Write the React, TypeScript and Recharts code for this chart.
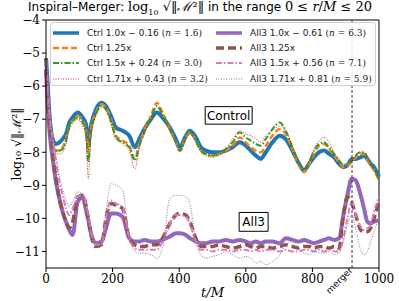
import React from 'react';
import { LineChart, Line, XAxis, YAxis, ReferenceLine, ReferenceArea } from 'recharts';

// time samples (t/M), shared by every series
const times = [
  0, 5, 10, 20, 30, 40, 50, 60, 70, 80,
  95, 110, 120, 127, 135, 150, 167, 180, 195, 210,
  230, 250, 267, 280, 295, 315, 333, 350, 372, 390,
  402, 420, 432, 450, 465, 480, 500, 520, 540, 560,
  582, 600, 615, 630, 645, 660, 680, 702, 720, 740,
  760, 775, 790, 805, 820, 835, 850, 865, 880, 893,
  905, 918, 930, 945, 955, 965, 975, 985, 1000,
];

const ctrl10 = [
  -5.15, -5.9, -6.8, -7.6, -7.75, -7.7, -7.6, -7.45, -7.1, -6.95,
  -6.8, -6.95, -7.15, -7.7, -7.2, -6.7, -6.5, -6.6, -6.9, -7.25,
  -7.35, -7.5, -7.85, -7.6, -7.3, -7.0, -6.8, -6.95, -7.25, -7.6,
  -7.85, -7.5, -7.35, -7.55, -7.85, -7.95, -8.0, -8.0, -7.95, -7.85,
  -7.7, -7.8, -7.95, -8.1, -8.2, -8.0, -7.7, -7.5, -7.6, -7.95,
  -8.35, -8.55, -8.35, -8.15, -8.0, -7.95, -8.05, -8.15, -8.35, -8.45,
  -8.4, -8.2, -8.2, -8.15, -8.1, -8.2, -8.35, -8.45, -8.75,
];
const ctrl125 = [
  -5.2, -6.0, -6.9, -7.7, -7.95, -7.95, -7.85, -7.6, -7.2, -7.05,
  -6.9, -7.05, -7.3, -8.0, -7.3, -6.8, -6.55, -6.65, -7.0, -7.5,
  -7.65, -7.8, -8.2, -7.75, -7.35, -6.9, -6.5, -6.8, -7.3, -7.7,
  -7.95, -7.55, -7.4, -7.65, -7.95, -8.05, -8.1, -8.05, -7.95, -7.8,
  -7.55, -7.7, -7.85, -7.95, -8.0, -7.8, -7.5, -7.3, -7.45, -7.9,
  -8.4, -8.6, -8.35, -8.05, -7.8, -7.75, -7.9, -8.1, -8.3, -8.45,
  -8.4, -8.3, -8.15, -8.05, -8.05, -8.2, -8.4, -8.55, -8.85,
];
const ctrl15 = [
  -5.3, -6.1, -7.0, -7.75, -7.95, -7.95, -7.9, -7.65, -7.2, -7.05,
  -6.95, -7.1, -7.4, -8.3, -7.4, -6.85, -6.6, -6.7, -7.05, -7.55,
  -7.7, -7.85, -8.25, -7.8, -7.4, -6.95, -6.6, -6.85, -7.3, -7.7,
  -7.95, -7.55, -7.4, -7.65, -7.95, -8.05, -8.1, -8.05, -7.9, -7.7,
  -7.4, -7.55, -7.65, -7.75, -7.8, -7.6, -7.3, -7.1, -7.35, -7.85,
  -8.35, -8.55, -8.3, -7.95, -7.75, -7.7, -7.85, -8.05, -8.25, -8.4,
  -8.35, -8.25, -8.1, -8.0, -8.0, -8.15, -8.35, -8.5, -8.8,
];
const ctrl171 = [
  -5.4, -6.2, -7.1, -7.85, -8.05, -8.05, -8.0, -7.75, -7.3, -7.15,
  -7.0, -7.2, -7.5, -8.8, -7.5, -6.9, -6.65, -6.75, -7.15, -7.6,
  -7.75, -7.95, -8.5, -7.9, -7.45, -7.0, -6.65, -6.9, -7.35, -7.75,
  -8.0, -7.6, -7.45, -7.7, -8.0, -8.1, -8.15, -8.1, -7.9, -7.6,
  -7.35, -7.45, -7.5, -7.6, -7.7, -7.5, -7.35, -7.2, -7.35, -7.8,
  -8.3, -8.5, -8.25, -7.9, -7.65, -7.55, -7.7, -8.0, -8.2, -8.35,
  -8.35, -8.25, -8.1, -8.0, -8.0, -8.15, -8.35, -8.5, -8.85,
];
const all10 = [
  -5.5, -6.5, -7.3, -8.2, -8.9, -9.4, -9.8, -10.1, -10.35, -10.5,
  -9.5, -9.35, -9.75, -10.05, -10.45, -10.75, -10.7, -10.3, -9.85, -9.85,
  -9.95, -10.6, -10.7, -10.7, -10.65, -10.7, -10.7, -10.65, -10.55, -10.45,
  -10.45, -10.5, -10.6, -10.7, -10.75, -10.75, -10.7, -10.7, -10.65, -10.7,
  -10.65, -10.7, -10.75, -10.7, -10.75, -10.7, -10.7, -10.75, -10.6, -10.65,
  -10.7, -10.65, -10.7, -10.75, -10.7, -10.65, -10.6, -10.65, -10.6, -9.9,
  -9.3, -8.8, -8.85, -9.3, -9.7, -10.1, -10.15, -10.1, -10.05,
];
const all125 = [
  -5.5, -6.4, -7.1, -8.0, -8.8, -9.4, -9.8, -10.1, -10.3, -10.1,
  -9.35, -9.3, -9.6, -10.0, -10.5, -10.85, -10.8, -10.0, -9.55, -9.6,
  -9.7, -10.6, -10.8, -10.85, -10.85, -10.8, -10.8, -10.6, -10.15, -9.9,
  -9.85, -9.9, -10.1, -10.6, -10.85, -10.85, -10.85, -10.8, -10.85, -10.9,
  -10.85, -10.8, -10.85, -10.9, -10.85, -10.85, -10.9, -10.85, -10.8, -10.85,
  -10.9, -10.85, -10.85, -10.9, -10.85, -10.85, -10.9, -10.85, -10.9, -9.9,
  -9.35, -9.5, -9.9, -10.35, -10.4, -10.4, -10.3, -10.0, -9.5,
];
const all15 = [
  -5.3, -6.1, -6.8, -7.6, -8.3, -8.9, -9.3, -9.7, -9.9, -9.7,
  -9.35, -9.3, -9.55, -9.9, -10.4, -10.8, -10.8, -10.0, -9.45, -9.55,
  -9.65, -10.6, -10.9, -10.95, -10.95, -10.95, -10.95, -10.7, -10.15, -9.9,
  -9.9, -9.95, -10.15, -10.7, -10.95, -10.95, -11.0, -10.95, -10.95, -11.0,
  -10.95, -10.95, -11.0, -10.95, -11.0, -10.95, -10.95, -11.0, -10.95, -11.0,
  -11.0, -10.95, -10.95, -11.0, -10.95, -11.0, -10.95, -11.0, -11.0, -10.6,
  -10.0, -9.5, -9.9, -10.25, -10.35, -10.3, -10.2, -9.8, -9.35,
];
const all171 = [
  -5.2, -5.9, -6.5, -7.4, -8.1, -8.7, -9.1, -9.45, -9.65, -9.5,
  -9.2, -9.25, -9.5, -9.85, -10.3, -10.8, -10.85, -9.8, -8.95, -9.0,
  -9.15, -10.5, -11.0, -11.05, -11.05, -11.1, -11.2, -10.9, -9.4, -9.3,
  -9.3, -9.35, -9.55, -10.7, -11.1, -11.2, -11.15, -11.1, -11.0, -11.1,
  -11.2, -11.15, -11.2, -11.35, -11.3, -11.4, -11.3, -11.1, -10.8, -10.7,
  -10.9, -11.05, -11.1, -11.0, -11.05, -11.05, -11.0, -11.1, -11.05, -10.7,
  -10.2, -9.9, -10.3, -10.95, -11.1, -11.0, -10.7, -10.4, -10.0,
];

const xTicks = [0, 200, 400, 600, 800, 1000];
const yTicks = [-11, -10, -9, -8, -7, -6, -5, -4];
const mergerT = 919;

const rows = times.map((t, i) => ({
  t,
  c10: ctrl10[i], c125: ctrl125[i], c15: ctrl15[i], c171: ctrl171[i],
  a10: all10[i], a125: all125[i], a15: all15[i], a171: all171[i],
}));

const DASHDOT = '6 2 1.5 2';
const series = [
  { key: 'c10', label: 'Ctrl 1.0x − 0.16', n: '1.6', color: '#1f77b4', width: 4, dash: undefined },
  { key: 'c125', label: 'Ctrl 1.25x', n: null, color: '#ff7f0e', width: 2.5, dash: '6 3' },
  { key: 'c15', label: 'Ctrl 1.5x + 0.24', n: '3.0', color: '#2ca02c', width: 2, dash: DASHDOT },
  { key: 'c171', label: 'Ctrl 1.71x + 0.43', n: '3.2', color: '#d62728', width: 1, dash: '1 1.5' },
  { key: 'a10', label: 'All3 1.0x − 0.61', n: '6.3', color: '#9467bd', width: 4, dash: undefined },
  { key: 'a125', label: 'All3 1.25x', n: null, color: '#8c564b', width: 3.5, dash: '8 4' },
  { key: 'a15', label: 'All3 1.5x + 0.56', n: '7.1', color: '#e377c2', width: 2, dash: DASHDOT },
  { key: 'a171', label: 'All3 1.71x + 0.81', n: '5.9', color: '#7f7f7f', width: 1, dash: '1 1.5' },
];

const SANS = 'DejaVu Sans, sans-serif';
const SERIF = 'DejaVu Serif, Liberation Serif, serif';

const fmt = (v: number) => String(v).replace('-', '−');

function MergerLabel(props: any) {
  const vb = props.viewBox || {};
  const x = vb.x + 1;
  const y = vb.y + vb.height + 3;
  return (
    <text x={x} y={y} transform={`rotate(-45 ${x} ${y})`} textAnchor="end" fontSize={9} fontFamily={SANS} fill="#000">
      merger
    </text>
  );
}

function YLabel(props: any) {
  const vb = props.viewBox || {};
  const x = 16;
  const y = vb.y + vb.height / 2;
  return (
    <text x={x} y={y} transform={`rotate(-90 ${x} ${y})`} textAnchor="middle" fontSize={12.5} fontFamily={SERIF} fill="#000" dominantBaseline="central">
      log₁₀ √‖ℳ²‖
    </text>
  );
}

function Swatch({ s }: { s: typeof series[number] }) {
  return (
    <svg width={26} height={10} style={{ display: 'block', flex: 'none' }}>
      <line x1={0} y1={5} x2={26} y2={5} stroke={s.color} strokeWidth={Math.min(s.width, 3.5)} strokeDasharray={s.dash} />
    </svg>
  );
}

function LegendBox() {
  const cols = [series.slice(0, 4), series.slice(4)];
  return (
    <div style={{
      position: 'absolute', left: 50, top: 22, width: 326, height: 64, boxSizing: 'border-box',
      border: '1px solid #d0d0d0', borderRadius: 3, background: 'rgba(255,255,255,0.85)',
      display: 'flex', paddingTop: 2, fontFamily: SANS, fontSize: 9, color: '#222',
    }}>
      {cols.map((col, ci) => (
        <div key={ci} style={{ width: ci === 0 ? 162 : 160, paddingLeft: 2 }}>
          {col.map(s => (
            <div key={s.key} style={{ height: 15.3, display: 'flex', alignItems: 'center', whiteSpace: 'nowrap' }}>
              <Swatch s={s} />
              <span style={{ marginLeft: 8 }}>
                {s.label}
                {s.n && (
                  <span style={{ fontFamily: SERIF }}> (<i>n</i> = {s.n})</span>
                )}
              </span>
            </div>
          ))}
        </div>
      ))}
    </div>
  );
}

export default function App() {
  return (
    <div style={{ position: 'absolute', left: 0, top: 0, width: 399, height: 301, background: '#fff', overflow: 'hidden' }}>
      <LineChart width={399} height={301} data={rows} margin={{ top: 20, right: 20, bottom: 0, left: 0 }}>
        <XAxis
          dataKey="t" type="number" domain={[0, 1000]} ticks={xTicks} interval={0}
          height={33} tickSize={4} stroke="#000"
          tick={{ fontFamily: SERIF, fontSize: 12, fill: '#000' }}
          label={{ value: 't/M', position: 'insideBottom', offset: 4, fontFamily: SERIF, fontStyle: 'italic', fontSize: 13, fill: '#000' }}
        />
        <YAxis
          type="number" domain={[-11.5, -4]} ticks={yTicks} interval={0} width={46}
          tickSize={4} stroke="#000" tickFormatter={fmt}
          tick={{ fontFamily: SERIF, fontSize: 12, fill: '#000' }}
          label={<YLabel />}
        />
        <ReferenceLine y={-4} stroke="#000" />
        <ReferenceLine x={1000} stroke="#000" />
        {series.map(s => (
          <Line
            key={s.key} dataKey={s.key} type="monotone" dot={false} isAnimationActive={false}
            stroke={s.color} strokeWidth={s.width} strokeDasharray={s.dash}
          />
        ))}
        <ReferenceLine x={mergerT} stroke="#333" strokeDasharray="3 2" label={<MergerLabel />} />
        <ReferenceArea x1={478} x2={619} y1={-7.15} y2={-6.62} fill="#fff" fillOpacity={1} stroke="#000"
          label={{ value: 'Control', position: 'center', fontFamily: SANS, fontSize: 12, fill: '#000' }} />
        <ReferenceArea x1={580} x2={667} y1={-10.39} y2={-9.82} fill="#fff" fillOpacity={1} stroke="#000"
          label={{ value: 'All3', position: 'center', fontFamily: SANS, fontSize: 12, fill: '#000' }} />
      </LineChart>
      <LegendBox />
      <div style={{ position: 'absolute', left: 28, top: 0, height: 14, lineHeight: '14px', whiteSpace: 'nowrap', fontFamily: SANS, fontSize: 12, color: '#000' }}>
        Inspiral–Merger: <span style={{ fontFamily: SERIF, fontSize: 13 }}>log<sub style={{ fontSize: 8, lineHeight: 0 }}>10</sub> √‖<i>ℳ</i>²‖</span> in the range <span style={{ fontFamily: SERIF, fontSize: 13 }}>0 ≤ <i>r</i>/<i>M</i> ≤ 20</span>
      </div>
    </div>
  );
}
